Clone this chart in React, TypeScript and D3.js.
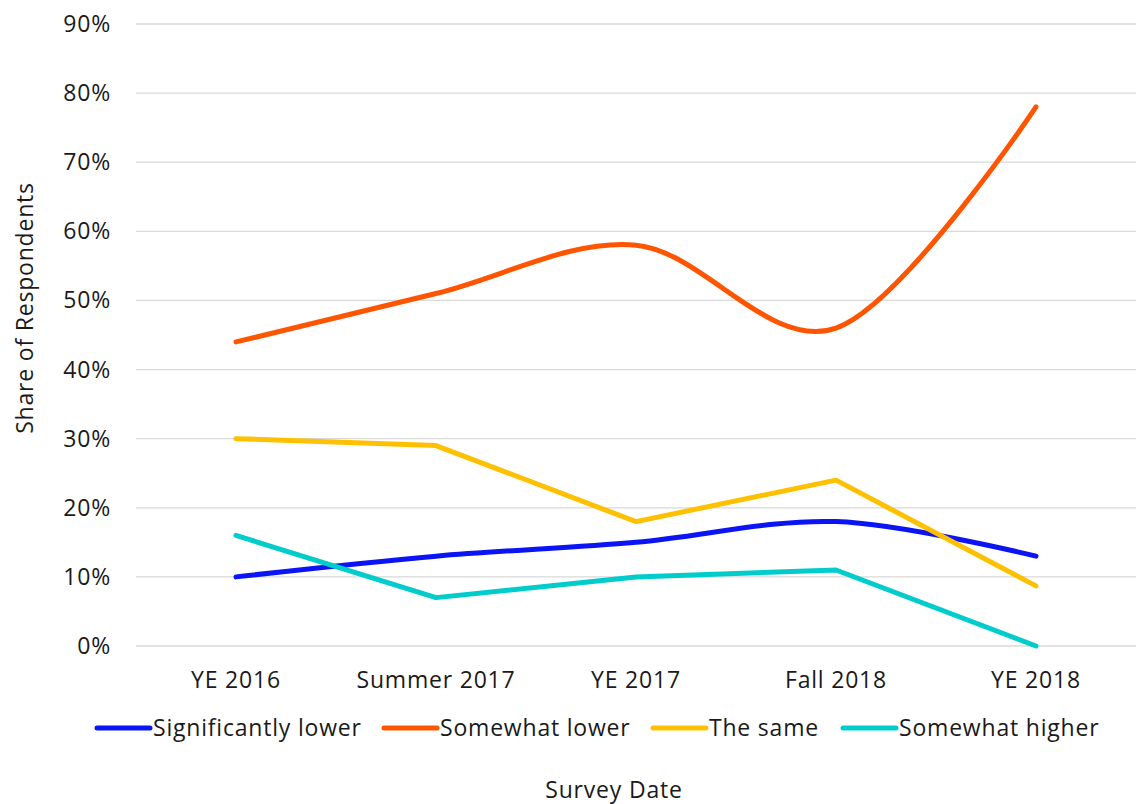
import React, { useEffect, useRef } from "react";
import * as d3 from "d3";

const categories = ["YE 2016", "Summer 2017", "YE 2017", "Fall 2018", "YE 2018"];
const significantlyLower = [0.10, 0.13, 0.15, 0.18, 0.13];
const somewhatLower = [0.44, 0.51, 0.58, 0.46, 0.78];
const theSame = [0.30, 0.29, 0.18, 0.24, 0.087];
const somewhatHigher = [0.16, 0.07, 0.10, 0.11, 0.0];
const yTicks = [0, 0.1, 0.2, 0.3, 0.4, 0.5, 0.6, 0.7, 0.8, 0.9];

const seriesNames = ["Significantly lower", "Somewhat lower", "The same", "Somewhat higher"];
const seriesValues = [significantlyLower, somewhatLower, theSame, somewhatHigher];
const seriesColors = ["#0a14f5", "#ff5500", "#ffc000", "#00cccc"];
const seriesSmooth = [true, true, false, false];
const legendX = [97, 384, 653, 843];

const W = 1137;
const H = 804;
const FONT = "'Open Sans', 'Liberation Sans', sans-serif";
const TEXT = "#1a1a1a";

function styleText(sel: d3.Selection<SVGTextElement, any, any, any>) {
  sel
    .style("font-family", FONT)
    .style("font-size", "23px")
    .style("letter-spacing", "0.8px")
    .style("fill", TEXT);
}

export default function App() {
  const svgRef = useRef<SVGSVGElement>(null);

  useEffect(() => {
    if (!svgRef.current) return;
    const svg = d3.select(svgRef.current);
    svg.selectAll("*").remove();

    const x = d3.scaleBand().domain(categories).range([136, 1136]);
    const y = d3.scaleLinear().domain([0, 0.9]).range([646, 24]);

    // gridlines
    svg.append("g")
      .selectAll("line")
      .data(yTicks)
      .enter()
      .append("line")
      .attr("x1", 136)
      .attr("x2", 1136)
      .attr("y1", (d) => y(d))
      .attr("y2", (d) => y(d))
      .attr("stroke", "#d9d9d9")
      .attr("stroke-width", 1.3);

    // y tick labels
    svg.append("g")
      .selectAll("text")
      .data(yTicks)
      .enter()
      .append("text")
      .attr("x", 111)
      .attr("y", (d) => y(d))
      .attr("dy", "0.35em")
      .attr("text-anchor", "end")
      .call(styleText)
      .text((d) => `${Math.round(d * 100)}%`);

    // x tick labels
    svg.append("g")
      .selectAll("text")
      .data(categories)
      .enter()
      .append("text")
      .attr("x", (d) => x(d)! + x.bandwidth() / 2)
      .attr("y", 680)
      .attr("dy", "0.35em")
      .attr("text-anchor", "middle")
      .call(styleText)
      .text((d) => d);

    // lines
    seriesValues.forEach((vals, i) => {
      const line = d3
        .line<number>()
        .x((_, j) => x(categories[j])! + x.bandwidth() / 2)
        .y((d) => y(d))
        .curve(seriesSmooth[i] ? d3.curveCardinal.tension(0) : d3.curveLinear);
      svg.append("path")
        .datum(vals)
        .attr("d", line)
        .attr("fill", "none")
        .attr("stroke", seriesColors[i])
        .attr("stroke-width", 5)
        .attr("stroke-linecap", "round")
        .attr("stroke-linejoin", "round");
    });

    // legend
    const legend = svg.append("g");
    seriesNames.forEach((name, i) => {
      legend.append("line")
        .attr("x1", legendX[i])
        .attr("x2", legendX[i] + 53)
        .attr("y1", 728)
        .attr("y2", 728)
        .attr("stroke", seriesColors[i])
        .attr("stroke-width", 5)
        .attr("stroke-linecap", "round");
      legend.append("text")
        .attr("x", legendX[i] + 56)
        .attr("y", 728)
        .attr("dy", "0.35em")
        .call(styleText)
        .text(name);
    });

    // axis titles
    svg.append("text")
      .attr("x", 614)
      .attr("y", 790)
      .attr("dy", "0.35em")
      .attr("text-anchor", "middle")
      .call(styleText)
      .text("Survey Date");

    svg.append("text")
      .attr("transform", "translate(25,308) rotate(-90)")
      .attr("dy", "0.35em")
      .attr("text-anchor", "middle")
      .call(styleText)
      .text("Share of Respondents");
  }, []);

  return (
    <svg
      ref={svgRef}
      width={W}
      height={H}
      style={{ position: "absolute", left: 0, top: 0, background: "#fff" }}
    />
  );
}
